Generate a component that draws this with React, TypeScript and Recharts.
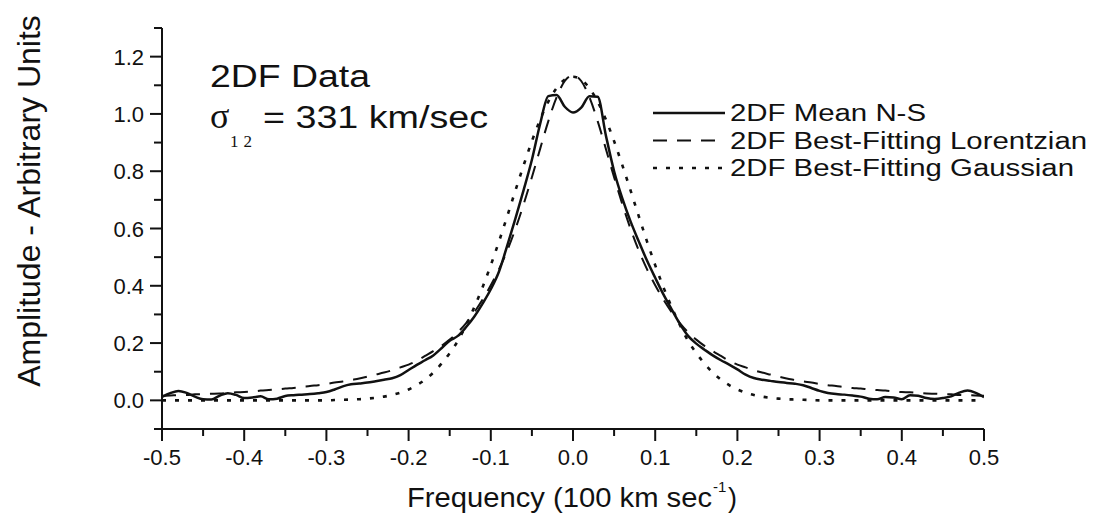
import { LineChart, Line, XAxis, YAxis, Legend } from 'recharts';

// frequency grid, 100 km/sec units
const freq = [
  -0.5, -0.49, -0.48, -0.47, -0.46, -0.45, -0.44, -0.43, -0.42, -0.41,
  -0.4, -0.39, -0.38, -0.37, -0.36, -0.35, -0.34, -0.33, -0.32, -0.31,
  -0.3, -0.29, -0.28, -0.27, -0.26, -0.25, -0.24, -0.23, -0.22, -0.21,
  -0.2, -0.19, -0.18, -0.17, -0.16, -0.15, -0.14, -0.13, -0.12, -0.11,
  -0.1, -0.09, -0.08, -0.07, -0.06, -0.05, -0.04, -0.03, -0.02, -0.01,
  0,
  0.01, 0.02, 0.03, 0.04, 0.05, 0.06, 0.07, 0.08, 0.09, 0.1,
  0.11, 0.12, 0.13, 0.14, 0.15, 0.16, 0.17, 0.18, 0.19, 0.2,
  0.21, 0.22, 0.23, 0.24, 0.25, 0.26, 0.27, 0.28, 0.29, 0.3,
  0.31, 0.32, 0.33, 0.34, 0.35, 0.36, 0.37, 0.38, 0.39, 0.4,
  0.41, 0.42, 0.43, 0.44, 0.45, 0.46, 0.47, 0.48, 0.49, 0.5,
];

const meanNS = [
  0.012, 0.025, 0.033, 0.026, 0.013, 0.004, 0.003, 0.016, 0.025, 0.019,
  0.008, 0.01, 0.014, 0.004, 0.006, 0.015, 0.018, 0.02, 0.022, 0.025,
  0.029, 0.038, 0.049, 0.056, 0.059, 0.062, 0.067, 0.072, 0.077, 0.088,
  0.106, 0.124, 0.14, 0.157, 0.182, 0.208, 0.225, 0.256, 0.293, 0.338,
  0.388, 0.45, 0.54, 0.635, 0.735, 0.84, 0.965, 1.062, 1.066, 1.025,
  1.005,
  1.022, 1.062, 1.06, 0.925, 0.8, 0.705, 0.625, 0.555, 0.488, 0.428,
  0.37, 0.318, 0.267, 0.225, 0.198, 0.177, 0.157, 0.14, 0.125, 0.108,
  0.09, 0.078, 0.072, 0.068, 0.064, 0.061, 0.058, 0.053, 0.043, 0.033,
  0.026, 0.022, 0.02, 0.017, 0.013, 0.006, 0.004, 0.012, 0.01, 0.004,
  0.018, 0.016, 0.008, 0.005, 0.008, 0.014, 0.027, 0.034, 0.026, 0.011,
];

const lorentzian = [
  0.016, 0.017, 0.018, 0.019, 0.021, 0.022, 0.023, 0.024, 0.026, 0.028,
  0.029, 0.031, 0.034, 0.036, 0.038, 0.041, 0.043, 0.046, 0.05, 0.053,
  0.057, 0.062, 0.066, 0.071, 0.076, 0.083, 0.09, 0.097, 0.105, 0.115,
  0.125, 0.138, 0.155, 0.172, 0.19, 0.212, 0.238, 0.27, 0.308, 0.352,
  0.402, 0.458, 0.523, 0.599, 0.685, 0.779, 0.878, 0.975, 1.058, 1.115,
  1.135,
  1.115, 1.058, 0.975, 0.878, 0.779, 0.685, 0.599, 0.523, 0.458, 0.402,
  0.352, 0.308, 0.27, 0.238, 0.212, 0.19, 0.172, 0.155, 0.138, 0.125,
  0.115, 0.105, 0.097, 0.09, 0.083, 0.076, 0.071, 0.066, 0.062, 0.057,
  0.053, 0.05, 0.046, 0.043, 0.041, 0.038, 0.036, 0.034, 0.031, 0.029,
  0.028, 0.026, 0.024, 0.023, 0.022, 0.021, 0.019, 0.018, 0.017, 0.016,
];

const gaussian = [
  0, 0, 0, 0, 0, 0, 0, 0, 0, 0,
  0, 0, 0, 0, 0, 0, 0, 0, 0, 0,
  0, 0.001, 0.002, 0.003, 0.004, 0.006, 0.009, 0.013, 0.019, 0.027,
  0.038, 0.053, 0.072, 0.097, 0.128, 0.165, 0.208, 0.263, 0.326, 0.395,
  0.472, 0.555, 0.643, 0.733, 0.821, 0.905, 0.98, 1.043, 1.09, 1.12,
  1.13,
  1.12, 1.09, 1.043, 0.98, 0.905, 0.821, 0.733, 0.643, 0.555, 0.472,
  0.395, 0.326, 0.263, 0.208, 0.165, 0.128, 0.097, 0.072, 0.053, 0.038,
  0.027, 0.019, 0.013, 0.009, 0.006, 0.004, 0.003, 0.002, 0.001, 0,
  0, 0, 0, 0, 0, 0, 0, 0, 0, 0,
  0, 0, 0, 0, 0, 0, 0, 0, 0, 0,
];

const xTicks = [
  -0.5, -0.45, -0.4, -0.35, -0.3, -0.25, -0.2, -0.15, -0.1, -0.05, 0,
  0.05, 0.1, 0.15, 0.2, 0.25, 0.3, 0.35, 0.4, 0.45, 0.5,
];
const yTicks = [-0.1, 0, 0.1, 0.2, 0.3, 0.4, 0.5, 0.6, 0.7, 0.8, 0.9, 1.0, 1.1, 1.2, 1.3];

const SERIES = [
  { key: 'mean', name: '2DF Mean N-S', dash: undefined, width: 2.5, legendLen: 196 },
  { key: 'lor', name: '2DF Best-Fitting Lorentzian', dash: '14 10', width: 2, legendLen: 357 },
  { key: 'gau', name: '2DF Best-Fitting Gaussian', dash: '4 9', width: 2.6, legendLen: 344 },
];

const FONT = '"Liberation Sans", Arial, Helvetica, sans-serif';
const INK = '#111';

const data = freq.map((f, i) => ({
  f,
  mean: meanNS[i],
  lor: lorentzian[i],
  gau: gaussian[i],
}));

const isMajorX = (v: number) => Math.abs(v * 10 - Math.round(v * 10)) < 1e-6;
const isMajorY = (v: number) => {
  const n = Math.round(v * 10);
  return Math.abs(v * 10 - n) < 1e-6 && n % 2 === 0 && n >= 0 && n <= 12;
};

function XTick({ x, y, payload }: any) {
  const v = payload.value;
  const major = isMajorX(v);
  return (
    <g>
      <line x1={x} y1={y} x2={x} y2={y + (major ? 12 : 7)} stroke={INK} strokeWidth={2} />
      {major && (
        <text x={x} y={y + 36} textAnchor="middle" fontSize={22} fontFamily={FONT} fill={INK}>
          {v.toFixed(1)}
        </text>
      )}
    </g>
  );
}

function YTick({ x, y, payload }: any) {
  const v = payload.value;
  const major = isMajorY(v);
  return (
    <g>
      <line x1={x} y1={y} x2={x - (major ? 12 : 8)} y2={y} stroke={INK} strokeWidth={2} />
      {major && (
        <text x={x - 18} y={y + 8} textAnchor="end" fontSize={22} fontFamily={FONT} fill={INK}>
          {v.toFixed(1)}
        </text>
      )}
    </g>
  );
}

function LegendBox() {
  return (
    <svg width={446} height={90}>
      {SERIES.map((s, i) => {
        const base = 21 + i * 27.5;
        return (
          <g key={s.key}>
            <line x1={3} y1={base - 8} x2={75} y2={base - 8} stroke={INK}
              strokeWidth={s.width} strokeDasharray={s.dash} />
            <text x={80} y={base} fontSize={23} fontFamily={FONT} fill={INK}
              textLength={s.legendLen} lengthAdjust="spacingAndGlyphs">
              {s.name}
            </text>
          </g>
        );
      })}
    </svg>
  );
}

export default function App() {
  return (
    <div style={{ position: 'absolute', left: 0, top: 0, width: 1096, height: 514, background: '#fff' }}>
      <LineChart width={1096} height={514} data={data}
        margin={{ top: 28, right: 112, bottom: 25, left: 82 }}>
        <XAxis dataKey="f" type="number" domain={[-0.5, 0.5]} ticks={xTicks}
          allowDataOverflow height={60} tickSize={0} tickMargin={0}
          axisLine={{ stroke: INK, strokeWidth: 2 }} tickLine={false} tick={<XTick />} />
        <YAxis type="number" domain={[-0.1, 1.3]} ticks={yTicks} allowDataOverflow
          width={80} tickSize={0} tickMargin={0}
          axisLine={{ stroke: INK, strokeWidth: 2 }} tickLine={false} tick={<YTick />} />
        <Legend layout="horizontal" verticalAlign="middle" align="center"
          wrapperStyle={{ position: 'absolute', left: 650, top: 100, width: 446, height: 90 }}
          content={() => <LegendBox />} />
        {SERIES.map((s) => (
          <Line key={s.key} dataKey={s.key} name={s.name} type="monotone"
            stroke={INK} strokeWidth={s.width} strokeDasharray={s.dash}
            dot={false} activeDot={false} isAnimationActive={false} />
        ))}
      </LineChart>
      <svg width={1096} height={514} style={{ position: 'absolute', left: 0, top: 0, pointerEvents: 'none' }}>
        <text x={210} y={87} fontSize={31} fontFamily={FONT} fill={INK}
          textLength={160} lengthAdjust="spacingAndGlyphs">2DF Data</text>
        <text x={210} y={128} fontSize={36} fontFamily='"Liberation Serif", "Times New Roman", serif' fill={INK}>σ</text>
        <text x={230} y={147} fontSize={17} fontFamily='"Liberation Serif", "Times New Roman", serif' fill={INK}
          textLength={22} lengthAdjust="spacing">12</text>
        <text x={263} y={128} fontSize={31} fontFamily={FONT} fill={INK}
          textLength={225} lengthAdjust="spacingAndGlyphs">= 331 km/sec</text>
        <text transform="translate(40,201) rotate(-90)" textAnchor="middle" fontSize={32}
          fontFamily={FONT} fill={INK}>Amplitude - Arbitrary Units</text>
        <text x={407} y={507} fontSize={27} fontFamily={FONT} fill={INK}
          textLength={305} lengthAdjust="spacingAndGlyphs">Frequency (100 km sec</text>
        <text x={713} y={492} fontSize={15} fontFamily={FONT} fill={INK}>-1</text>
        <text x={728} y={507} fontSize={27} fontFamily={FONT} fill={INK}>)</text>
      </svg>
    </div>
  );
}
